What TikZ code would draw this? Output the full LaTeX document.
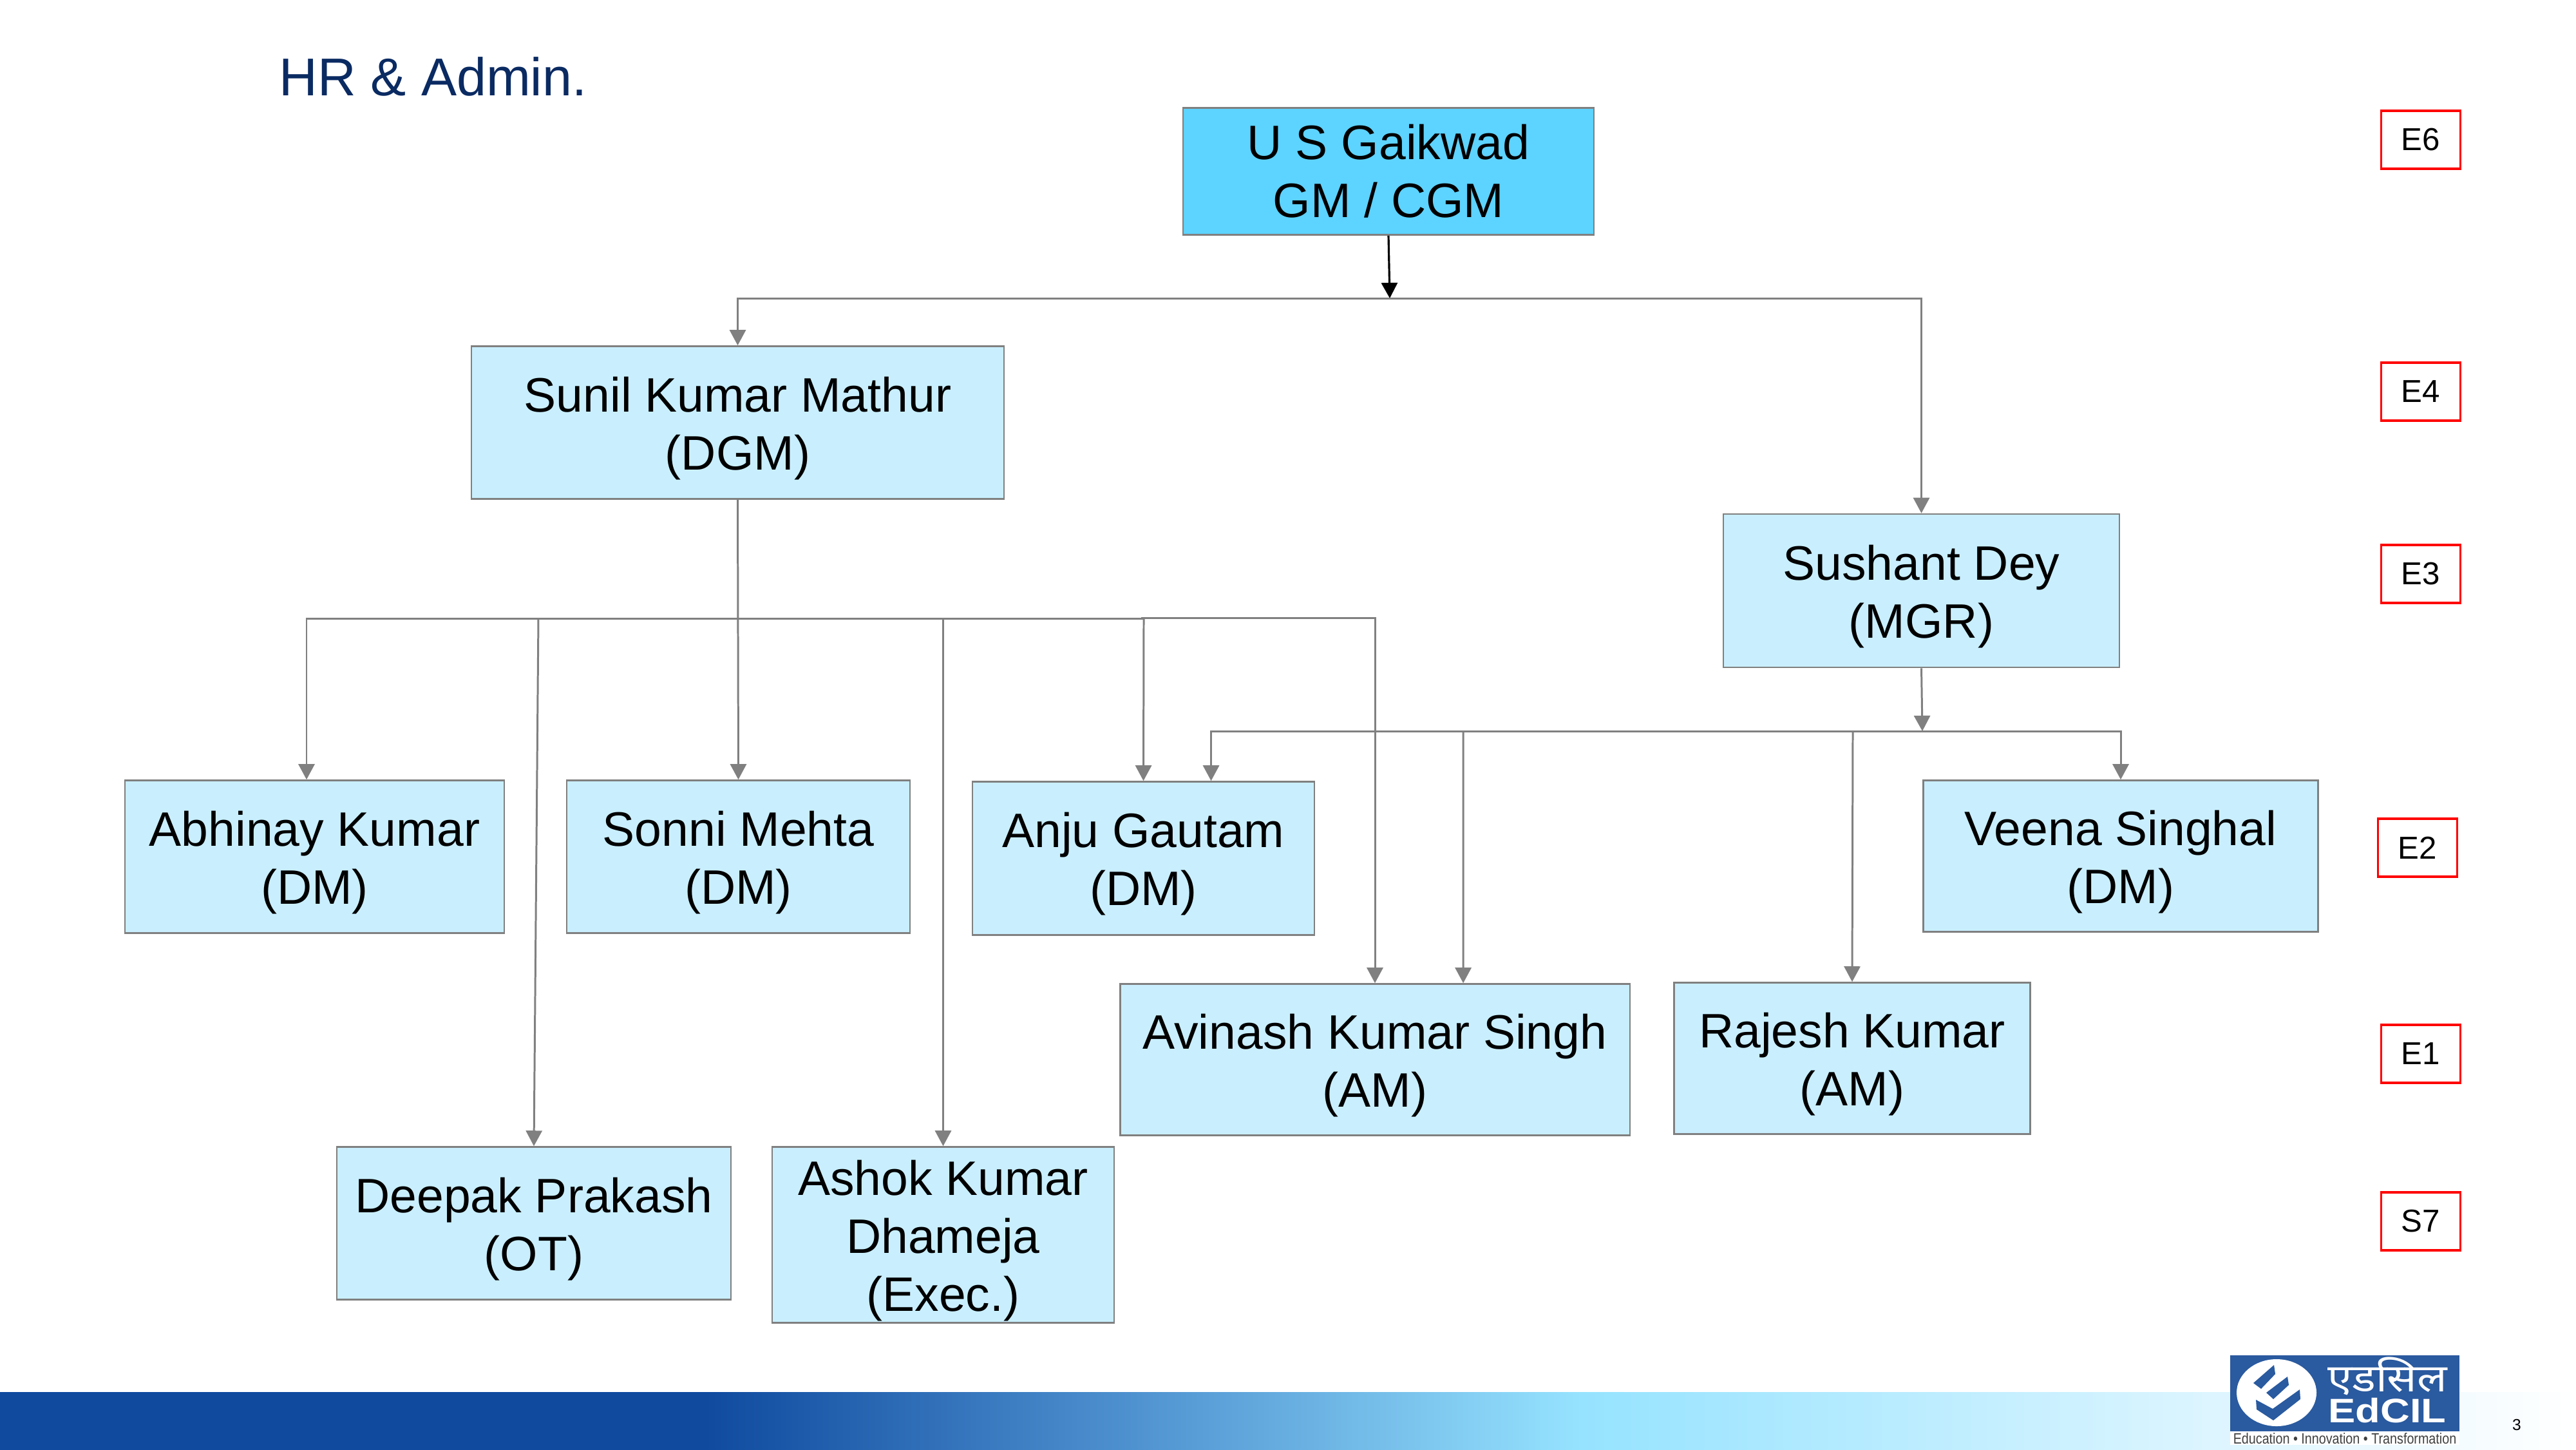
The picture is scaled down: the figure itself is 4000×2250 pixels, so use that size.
\documentclass[tikz,border=0pt]{standalone}
\usepackage{fontspec}
\setmainfont{Liberation Sans}
\newfontfamily\devafont[Script=Devanagari,FakeStretch=1.15]{Noto Sans}
\newfontfamily\logofont[FakeStretch=1.2]{Liberation Sans}
\newfontfamily\tagfont[FakeStretch=0.85]{Liberation Sans}
\usetikzlibrary{arrows.meta}
\definecolor{boxfill}{HTML}{C9EFFF}
\definecolor{rootfill}{HTML}{5DD3FF}
\definecolor{linegray}{HTML}{808080}
\definecolor{titleblue}{HTML}{0A2A62}
\definecolor{logoblue}{HTML}{2A5A9F}
\definecolor{banddark}{HTML}{0F4A9F}
\definecolor{bandmid}{HTML}{4F92D0}
\definecolor{bandlight}{HTML}{96E3FF}
\definecolor{bandpale}{HTML}{DDF5FF}
\pgfdeclarehorizontalshading{bandshade}{100bp}{
  color(0bp)=(banddark);
  color(38.7bp)=(banddark);
  color(47bp)=(bandmid);
  color(55.7bp)=(bandlight);
  color(68bp)=(bandpale);
  color(75bp)=(white);
  color(100bp)=(white)}
\newcommand{\firstline}{\rule{0pt}{0.72cm}}
\tikzset{
  person/.style={draw=linegray,line width=0.7pt,fill=boxfill,inner sep=0pt,align=center,
    font=\fontsize{21.35}{25.6}\selectfont},
  level/.style={draw=red,line width=0.9pt,minimum width=1.23cm,minimum height=0.9cm,inner sep=0pt,
    font=\fontsize{14}{16}\selectfont},
  link/.style={draw=linegray,line width=0.85pt,-{Triangle[length=0.24cm,width=0.25cm]},color=linegray},
  wire/.style={draw=linegray,line width=0.85pt}
}
\begin{document}
\begin{tikzpicture}[x=0.01cm,y=-0.01cm]
    \useasboundingbox (0,0) rectangle (4000,2250);

    % footer
    \shade[shading=bandshade] (0,2161) rectangle (4000,2250);
    \node[anchor=west,inner sep=0pt,text=titleblue,font=\fontsize{23.5}{28}\selectfont] (title) at (433,119) {HR \& Admin.};
    \node[inner sep=0pt,font=\fontsize{7}{8}\selectfont] (pagenum) at (3908,2212) {3};

    % logo
    \fill[white] (3463,2192) rectangle (3819,2243);
    \node[fill=logoblue,minimum width=3.56cm,minimum height=1.18cm,inner sep=0pt] (logo) at (3641,2163) {};
    \fill[white] (3535,2162) ellipse [x radius=62,y radius=52];
    \fill[logoblue] (3531,2119) -- (3533,2133) -- (3511,2156) -- (3499,2147) -- cycle;
    \fill[logoblue] (3552,2137) -- (3554,2150) -- (3530,2172) -- (3519,2162) -- cycle;
    \fill[logoblue] (3571,2157) -- (3572,2172) -- (3530,2205) -- (3504,2188) -- (3503,2173) -- (3529,2187) -- cycle;
    \node[inner sep=0pt,text=white,font=\fontsize{17}{18}\devafont] (logodeva) at (3707,2136) {एडसिल};
    \node[inner sep=0pt,text=white,font=\fontsize{15}{16}\logofont\bfseries] (logoname) at (3707,2190) {EdCIL};
    \node[inner sep=0pt,text=black!75,font=\fontsize{6.6}{7}\tagfont] (logotag) at (3641,2233) {Education • Innovation • Transformation};

    % people
    \node[person,fill=rootfill,minimum width=6.38cm,minimum height=1.97cm] (gm) at (2156,266) {U S Gaikwad\\GM / CGM};
    \node[person,minimum width=8.27cm,minimum height=2.37cm] (sunil) at (1145.5,656) {\firstline Sunil Kumar Mathur\\(DGM)};
    \node[person,minimum width=6.15cm,minimum height=2.38cm] (sushant) at (2983.5,917) {\firstline Sushant Dey\\(MGR)};
    \node[person,minimum width=5.89cm,minimum height=2.37cm] (abhinay) at (488.5,1330) {\firstline Abhinay Kumar\\(DM)};
    \node[person,minimum width=5.33cm,minimum height=2.37cm] (sonni) at (1146.5,1330) {\firstline Sonni Mehta\\(DM)};
    \node[person,minimum width=5.31cm,minimum height=2.38cm] (anju) at (1775.5,1332.5) {\firstline Anju Gautam\\(DM)};
    \node[person,minimum width=6.13cm,minimum height=2.35cm] (veena) at (3293,1329) {\firstline Veena Singhal\\(DM)};
    \node[person,minimum width=7.91cm,minimum height=2.35cm] (avinash) at (2135,1645) {\firstline Avinash Kumar Singh\\(AM)};
    \node[person,minimum width=5.53cm,minimum height=2.35cm] (rajesh) at (2876,1643) {\firstline Rajesh Kumar\\(AM)};
    \node[person,minimum width=6.12cm,minimum height=2.37cm] (deepak) at (829,1899) {\firstline Deepak Prakash\\(OT)};
    \node[person,minimum width=5.31cm,minimum height=2.73cm] (ashok) at (1464.5,1917) {\firstline Ashok Kumar\\Dhameja\\(Exec.)};

    % grades
    \node[level] (e6) at (3759,217) {E6};
    \node[level] (e4) at (3759,608) {E4};
    \node[level] (e3) at (3759,891) {E3};
    \node[level] (e2) at (3754,1316) {E2};
    \node[level] (e1) at (3759,1636) {E1};
    \node[level] (s7) at (3759,1896) {S7};

    % junctions
    \coordinate (topbus) at (2158,463);
    \coordinate (dgmbus) at (1145.5,960);
    \coordinate (mgrbus) at (2985,1135);
    \coordinate (anjubus) at (1772,959);

    % connectors
    \draw[line width=0.9pt,-{Triangle[length=0.24cm,width=0.25cm]}] (gm.south) -- (topbus);
    \draw[link] (topbus) -| (sunil.north);
    \draw[link] (topbus) -| (sushant.north);
    \draw[link] (sunil.south) -- (sonni.north);
    \draw[link] (dgmbus) -| ([xshift=-0.125cm]abhinay.north);
    \draw[link] (836,960) -- (deepak.north);
    \draw[link] (1464.5,960) -- (ashok.north);
    \draw[wire] (dgmbus) -- (1777,960);
    \draw[link] (1776,960) -- (anju.north);
    \draw[link] (anjubus) -| (avinash.north);
    \draw[link] (sushant.south) -- (mgrbus);
    \draw[link] (mgrbus) -| ([xshift=1.05cm]anju.north);
    \draw[link] (mgrbus) -| (veena.north);
    \draw[link] (2272,1135) -- ([xshift=1.37cm]avinash.north);
    \draw[link] (2877,1135) -- (rajesh.north);
\end{tikzpicture}
\end{document}
